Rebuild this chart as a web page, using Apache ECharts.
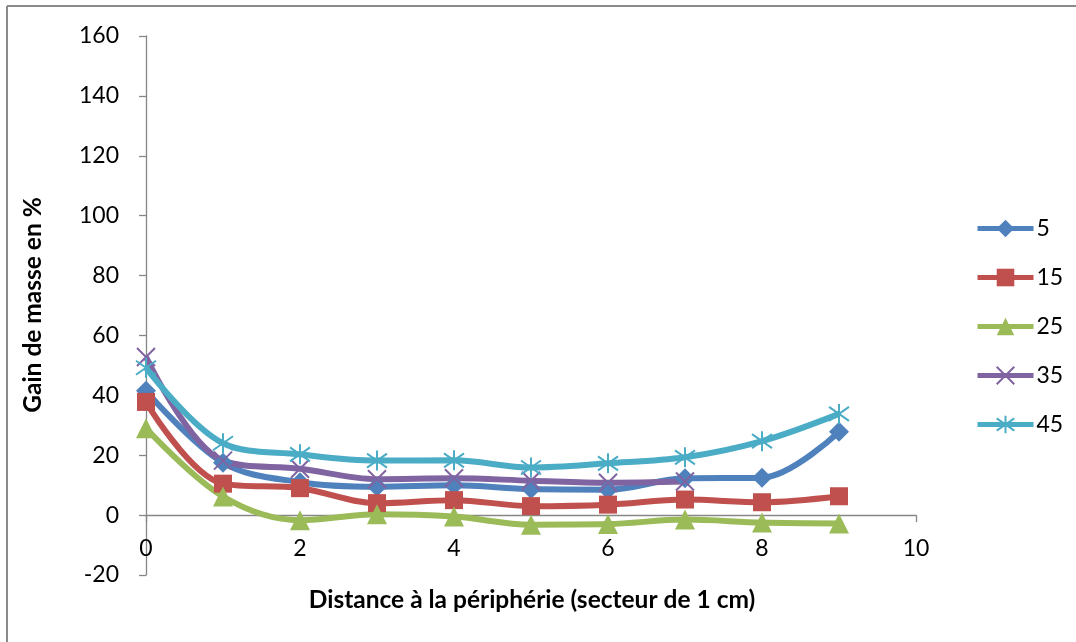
<!DOCTYPE html>
<html>
<head>
<meta charset="utf-8">
<script src="https://cdn.jsdelivr.net/npm/echarts@6/dist/echarts.min.js"></script>
<style>
html,body{margin:0;padding:0;background:#fff;}
#chart{width:1076px;height:642px;}
</style>
</head>
<body>
<div id="chart"></div>
<script>
var xValues = [0, 1, 2, 3, 4, 5, 6, 7, 8, 9];
var seriesNames = ['5', '15', '25', '35', '45'];
var s5  = [41.5, 17.5, 11, 9.5, 10, 8.7, 8.5, 12.3, 12.5, 27.8];
var s15 = [37.8, 10.5, 9, 4, 5, 3, 3.5, 5.2, 4.3, 6.3];
var s25 = [29, 6.2, -1.7, 0.3, -0.5, -3.2, -3, -1.5, -2.5, -2.8];
var s35 = [52.8, 18.2, 15.5, 12, 12.3, 11.5, 10.8, 11.2];
var s45 = [49.2, 24, 20.3, 18.2, 18.3, 15.9, 17.3, 19.3, 24.7, 33.8];
var yTicks = {min: -20, max: 160, step: 20};
var xTicks = {min: 0, max: 10, step: 2};
var xTitle = 'Distance à la périphérie (secteur de 1 cm)';
var yTitle = 'Gain de masse en %';

var colors = ['#4F81BD', '#C0504D', '#9BBB59', '#8064A2', '#4BACC6'];
var symbols = ['diamond', 'rect', 'triangle',
  'path://M0,0L10,10M10,0L0,10',
  'path://M0,1.5L10,8.5M10,1.5L0,8.5M5,0L5,10'];
var sizes = [20, 18, 20, 18, 20];
var allData = [s5, s15, s25, s35, s45];

function pairs(arr){ return arr.map(function(v,i){ return [xValues[i], v]; }); }

var font = 'Lato, "Open Sans", sans-serif';
var series = allData.map(function(d, i){
  var isPath = i >= 3;
  return {
    name: seriesNames[i],
    type: 'line',
    data: pairs(d),
    smooth: 0.35,
    symbol: symbols[i],
    symbolSize: sizes[i],
    symbolKeepAspect: true,
    showAllSymbol: true,
    lineStyle: {color: colors[i], width: 6},
    itemStyle: isPath ? {color: colors[i], borderColor: colors[i], borderWidth: 2} : {color: colors[i]},
    emphasis: {disabled: true}
  };
});

var chart = echarts.init(document.getElementById('chart'), null, {renderer: 'canvas'});
chart.setOption({
  animation: false,
  backgroundColor: '#fff',
  color: colors,
  grid: {left: 146, right: 160, top: 36, bottom: 67, containLabel: false},
  xAxis: {
    type: 'value', min: xTicks.min, max: xTicks.max, interval: xTicks.step,
    axisLine: {onZero: true, lineStyle: {color: '#868686', width: 1.3}},
    axisTick: {show: true, inside: false, length: 7, lineStyle: {color: '#868686', width: 1.3}},
    axisLabel: {color: '#000', fontSize: 23, fontFamily: font, margin: -38},
    splitLine: {show: false}
  },
  yAxis: {
    type: 'value', min: yTicks.min, max: yTicks.max, interval: yTicks.step,
    axisLine: {show: true, onZero: false, lineStyle: {color: '#868686', width: 1.3}},
    axisTick: {show: true, inside: false, length: 7, lineStyle: {color: '#868686', width: 1.3}},
    axisLabel: {color: '#000', fontSize: 23, fontFamily: font, margin: 27},
    splitLine: {show: false}
  },
  legend: {
    orient: 'vertical', left: 970, top: 212,
    itemWidth: 56, itemHeight: 22, itemGap: 26,
    lineStyle: {width: 5},
    textStyle: {fontSize: 23, fontFamily: font, color: '#000', padding: [0,0,0,-2]},
    data: seriesNames
  },
  graphic: [
    {type: 'line', shape: {x1: 7, y1: 6, x2: 1076, y2: 6}, style: {stroke: '#8a8a8a', lineWidth: 2}},
    {type: 'line', shape: {x1: 7, y1: 6, x2: 7, y2: 642}, style: {stroke: '#8a8a8a', lineWidth: 2}},
    {type: 'text', x: 532, y: 600, style: {text: xTitle, font: 'bold 24.5px ' + font, fill: '#000', textAlign: 'center', textVerticalAlign: 'middle'}},
    {type: 'text', x: 33, y: 305, rotation: Math.PI/2, style: {text: yTitle, font: 'bold 24.5px ' + font, fill: '#000', textAlign: 'center', textVerticalAlign: 'middle'}}
  ],
  series: series
});
</script>
</body>
</html>
